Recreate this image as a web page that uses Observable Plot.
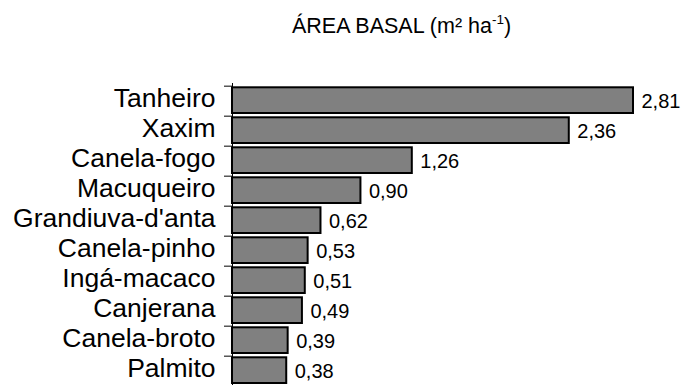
<!DOCTYPE html>
<html>
<head>
<meta charset="utf-8">
<script src="https://cdn.jsdelivr.net/npm/d3@7"></script>
<script src="https://cdn.jsdelivr.net/npm/@observablehq/plot@0.6"></script>
<style>
  html, body { margin: 0; padding: 0; background: #fff; overflow: hidden; }
  body { width: 682px; height: 385px; font-family: "Liberation Sans", Arial, sans-serif; }
  #title { position: relative; height: 60px; }
  #title span { position: absolute; left: 292px; top: 16px; font-size: 21.5px; color: #000; white-space: nowrap; line-height: 1; }
  #title sup { font-size: 13.5px; vertical-align: 0; position: relative; top: -9px; }
  #chart svg { display: block; }
</style>
</head>
<body>
<div id="title"><span>ÁREA BASAL (m² ha<sup>-1</sup>)</span></div>
<div id="chart"></div>
<script>
const species = ["Tanheiro", "Xaxim", "Canela-fogo", "Macuqueiro", "Grandiuva-d'anta", "Canela-pinho", "Ingá-macaco", "Canjerana", "Canela-broto", "Palmito"];
const basalArea = [2.81, 2.36, 1.26, 0.90, 0.62, 0.53, 0.51, 0.49, 0.39, 0.38];

const data = species.map((name, i) => ({name, value: basalArea[i]}));

const H = 340, MT = 23, MB = 10.3;
const step = (H - MT - MB) / species.length;
const fmt = v => v.toFixed(2).replace(".", ",");
const font = "'Liberation Sans', Arial, sans-serif";

const chart = Plot.plot({
  width: 682,
  height: H,
  marginLeft: 232,
  marginRight: 49,
  marginTop: MT,
  marginBottom: MB,
  style: {fontFamily: font, color: "#000", background: "#fff"},
  x: {domain: [0, 2.81], axis: null},
  y: {domain: species, padding: 0, axis: null},
  marks: [
    Plot.barX(data, {x: "value", y: "name", fill: "#808080", stroke: "#000", strokeWidth: 2, insetTop: 1.3, insetBottom: 3}),
    Plot.ruleX([0], {stroke: "#000", strokeWidth: 1}),
    Plot.axisY({tickSize: 8, text: null, dy: -step / 2, label: null, stroke: "#000"}),
    Plot.axisY({tickSize: 0, tickPadding: 17, fontSize: 26.5, dy: -2.5, label: null, fill: "#000"}),
    Plot.text(data, {x: "value", y: "name", text: d => fmt(d.value), textAnchor: "start", dx: 8, fontSize: 20, fill: "#000"})
  ]
});
document.getElementById("chart").appendChild(chart);
</script>
</body>
</html>
